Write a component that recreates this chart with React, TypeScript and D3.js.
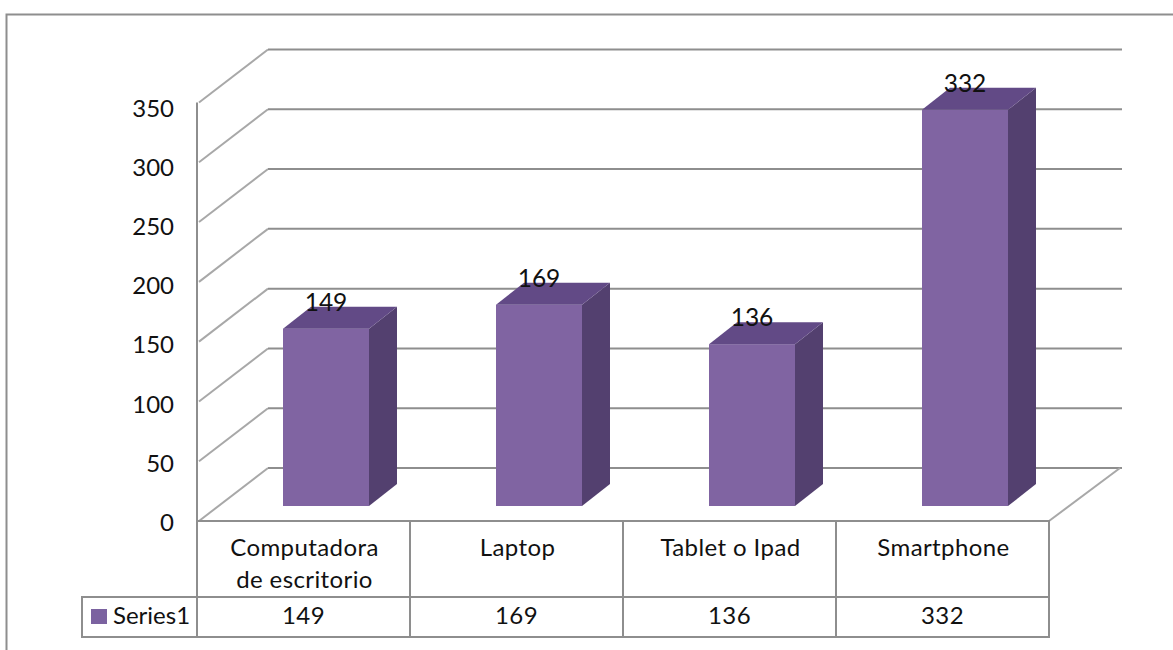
import React from "react";
import * as d3 from "d3";

const categories: string[][] = [["Computadora", "de escritorio"], ["Laptop"], ["Tablet o Ipad"], ["Smartphone"]];
const seriesName = "Series1";
const values = [149, 169, 136, 332];
const yTicks = [0, 50, 100, 150, 200, 250, 300, 350];

const W = 1173, H = 650;
const FONT = "Lato,'Open Sans',sans-serif";
const GRID = "#8e8e8e";
const DEPTH_X = 71, DEPTH_Y = -53;
const BAR_DX = 28, BAR_DY = -22;

const y = d3.scaleLinear().domain([0, 350]).range([521, 102.5]);
const labelY = d3.scaleLinear().domain([0, 350]).range([531, 116.5]);
const x = d3.scaleBand<number>().domain(d3.range(categories.length)).range([197, 1049]).paddingInner(0).paddingOuter(0);
const catIndex = d3.range(categories.length);

export default function App() {
  const barW = 86;
  const front = 506;
  const scale = (v: number) => (y(0) - y(v));
  return (
    <svg width={W} height={H} style={{ position: "absolute", left: 0, top: 0, background: "#fff" }} fontFamily={FONT}>
      <path d={`M6.5,650 V14.5 H1173`} fill="none" stroke="#8e8e8e" strokeWidth={2} />
      <line x1={197} x2={197} y1={y(350)} y2={y(0)} stroke={GRID} strokeWidth={2} />
      {yTicks.map((t) => (
        <g key={t}>
          <line x1={199} y1={y(t)} x2={197 + DEPTH_X} y2={y(t) + DEPTH_Y} stroke="#a8a8a8" strokeWidth={2} />
          <line x1={197 + DEPTH_X} y1={y(t) + DEPTH_Y} x2={1122} y2={y(t) + DEPTH_Y} stroke={GRID} strokeWidth={2} />
          <text x={174} y={labelY(t)} fontSize={24} textAnchor="end" fill="#111">{t}</text>
        </g>
      ))}
      <line x1={1049} y1={y(0)} x2={1120} y2={y(0) + DEPTH_Y} stroke="#a8a8a8" strokeWidth={2} />
      {catIndex.map((i) => {
        const x0 = (x(i) as number) + 86;
        const top = front - scale(values[i]) + 0.8;
        const x1 = x0 + barW;
        return (
          <g key={i}>
            <rect x={x0} y={top} width={barW} height={front - top} fill="#8064a2" />
            <path d={`M${x1},${top} l${BAR_DX},${BAR_DY} V${front + BAR_DY} L${x1},${front} Z`} fill="#53406f" />
            <path d={`M${x0},${top} l${BAR_DX},${BAR_DY} H${x1 + BAR_DX} L${x1},${top} Z`} fill="#624a86" />
            <text x={x0 + barW / 2} y={top - 18} fontSize={24.5} textAnchor="middle" fill="#111">{values[i]}</text>
          </g>
        );
      })}
      <g fill="none" stroke={GRID} strokeWidth={2}>
        <path d={`M197,${y(0)} H1049 V637 H82 V597 H1049`} />
        {catIndex.map((i) => (
          <line key={i} x1={x(i) as number} x2={x(i) as number} y1={y(0)} y2={637} />
        ))}
      </g>
      <rect x={91} y={609} width={16} height={15} fill="#7b62a0" />
      <text x={113} y={624} fontSize={24} fill="#111">{seriesName}</text>
      {catIndex.map((i) => {
        const cx = (x(i) as number) + x.bandwidth() / 2;
        return (
          <g key={i} textAnchor="middle" fontSize={24} fill="#111" letterSpacing={0.4}>
            {categories[i].map((l, j) => (
              <text key={j} x={cx + 1} y={556 + j * 32}>{l}</text>
            ))}
            <text x={cx} y={624}>{values[i]}</text>
          </g>
        );
      })}
    </svg>
  );
}
